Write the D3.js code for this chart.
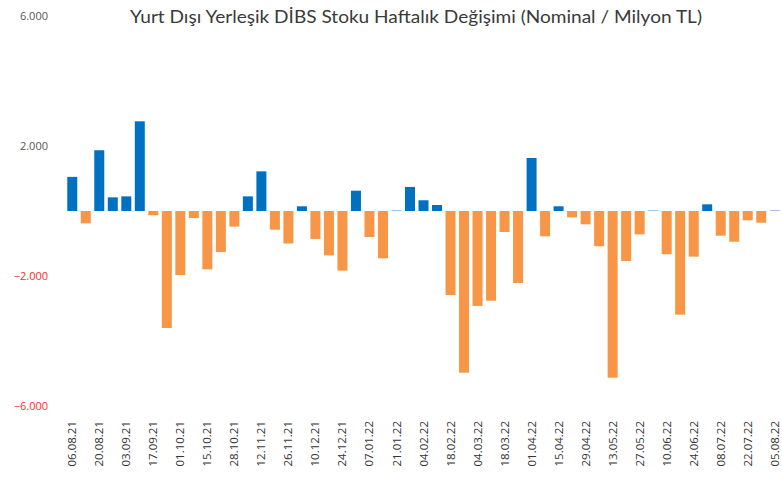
<!DOCTYPE html>
<html><head><meta charset="utf-8">
<script src="https://cdn.jsdelivr.net/npm/d3@7"></script>
<style>body{margin:0;background:#fff}svg{display:block}</style>
</head><body>
<svg id="c" width="782" height="479"></svg>
<script>
const dates = ["06.08.21","13.08.21","20.08.21","27.08.21","03.09.21","10.09.21","17.09.21","24.09.21","01.10.21","08.10.21","15.10.21","22.10.21","28.10.21","05.11.21","12.11.21","19.11.21","26.11.21","03.12.21","10.12.21","17.12.21","24.12.21","31.12.21","07.01.22","14.01.22","21.01.22","28.01.22","04.02.22","11.02.22","18.02.22","25.02.22","04.03.22","11.03.22","18.03.22","25.03.22","01.04.22","08.04.22","15.04.22","22.04.22","29.04.22","06.05.22","13.05.22","20.05.22","27.05.22","03.06.22","10.06.22","17.06.22","24.06.22","01.07.22","08.07.22","15.07.22","22.07.22","29.07.22","05.08.22"];
const values = [1050,-380,1870,420,450,2760,-130,-3600,-1970,-215,-1795,-1260,-480,450,1220,-575,-1000,145,-860,-1365,-1835,625,-800,-1455,30,740,330,185,-2585,-4975,-2920,-2760,-645,-2215,1630,-780,145,-195,-410,-1085,-5130,-1540,-720,30,-1330,-3190,-1405,205,-760,-945,-285,-360,30];
const yTicks = [-6000,-2000,2000,6000];
const title = "Yurt Dışı Yerleşik DİBS Stoku Haftalık Değişimi (Nominal / Milyon TL)";

const svg = d3.select("#c");
const x = d3.scaleBand().domain(dates).range([65.5, 781.5]).paddingInner(0.26).paddingOuter(0.13);
const y = d3.scaleLinear().domain([-6000, 6000]).range([406, 16]);

svg.append("text").attr("x", 416).attr("y", 23).attr("text-anchor", "middle")
  .attr("font-family", "Lato, sans-serif").attr("font-size", 18).attr("fill", "#3a3a3a")
  .attr("textLength", 572).attr("lengthAdjust", "spacingAndGlyphs")
  .text(title);

const ya = svg.append("g").attr("transform", "translate(48,0)")
  .call(d3.axisLeft(y).tickValues(yTicks).tickSize(0).tickPadding(0)
    .tickFormat(d => d3.format(",")(d).replace(/,/g, ".")));
ya.select(".domain").remove();
ya.selectAll("text").attr("font-family", "Open Sans, sans-serif").attr("font-size", 11)
  .attr("fill", d => d < 0 ? "#ff2a2a" : "#555");

svg.append("g").selectAll("rect").data(values).join("rect")
  .attr("x", (d, i) => x(dates[i]))
  .attr("width", x.bandwidth())
  .attr("y", d => y(Math.max(0, d)))
  .attr("height", d => Math.abs(y(d) - y(0)))
  .attr("fill", d => Math.abs(d) < 50 ? "#9dc3e6" : d > 0 ? "#0070c0" : "#f79646");

const labelDates = dates.filter((d, i) => i % 2 === 0);
const xa = svg.append("g").attr("transform", "translate(0,420)")
  .call(d3.axisBottom(x).tickValues(labelDates).tickSize(0).tickPadding(0));
xa.select(".domain").remove();
xa.selectAll("text").attr("font-family", "Open Sans, sans-serif").attr("font-size", 11.5)
  .attr("fill", "#333")
  .attr("transform", "rotate(-90)").attr("text-anchor", "end")
  .attr("x", -1).attr("y", 0).attr("dy", "0.35em");
</script>
</body></html>
